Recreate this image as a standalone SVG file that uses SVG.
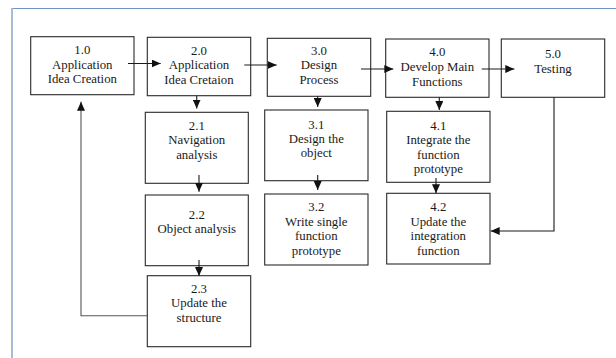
<svg xmlns="http://www.w3.org/2000/svg" width="616" height="358" viewBox="0 0 616 358">
  <style>
    .box { fill: #ffffff; stroke: #2a2a2a; stroke-width: 1.1; }
    .lbl { font-family: "Liberation Serif", "Times New Roman", serif; font-size: 12.8px; fill: #1a1a1a; text-anchor: middle; }
    .wire { fill: none; stroke: #1a1a1a; stroke-width: 1.1; }
    .wire.back { stroke: #555555; }
  </style>
  <defs>
    <marker id="head" markerUnits="userSpaceOnUse" markerWidth="10" markerHeight="8" viewBox="0 0 10 8" refX="9" refY="4" orient="auto">
      <path d="M0,0 L9,4 L0,8 Z" fill="#111111"/>
    </marker>
  </defs>

  <rect width="616" height="358" fill="#ffffff"/>

  <!-- page frame -->
  <g id="frame">
    <line x1="12" y1="8.5" x2="616" y2="8.5" stroke="#7191c0" stroke-width="1"/>
    <line x1="12" y1="8" x2="12" y2="358" stroke="#a9bcd6" stroke-width="2"/>
  </g>

  <!-- process steps -->
  <g id="n1_0">
    <rect class="box" x="30.7" y="36.7" width="103.3" height="58"/>
    <text class="lbl" x="82.3" y="54">1.0</text>
    <text class="lbl" x="82.3" y="68.5">Application</text>
    <text class="lbl" x="82.3" y="83">Idea Creation</text>
  </g>
  <g id="n2_0">
    <rect class="box" x="147.3" y="37.3" width="103.4" height="58.4"/>
    <text class="lbl" x="199" y="54.5">2.0</text>
    <text class="lbl" x="199" y="69">Application</text>
    <text class="lbl" x="199" y="83.5">Idea Cretaion</text>
  </g>
  <g id="n3_0">
    <rect class="box" x="267.3" y="38.3" width="103.4" height="58"/>
    <text class="lbl" x="319" y="54.5">3.0</text>
    <text class="lbl" x="319" y="69">Design</text>
    <text class="lbl" x="319" y="83.5">Process</text>
  </g>
  <g id="n4_0">
    <rect class="box" x="385.7" y="39" width="103.3" height="58.3"/>
    <text class="lbl" x="437.3" y="56">4.0</text>
    <text class="lbl" x="437.3" y="71">Develop Main</text>
    <text class="lbl" x="437.3" y="85.5">Functions</text>
  </g>
  <g id="n5_0">
    <rect class="box" x="501.3" y="39" width="103.4" height="58.3"/>
    <text class="lbl" x="553" y="57.5">5.0</text>
    <text class="lbl" x="553" y="72.5">Testing</text>
  </g>
  <g id="n2_1">
    <rect class="box" x="145.3" y="112.3" width="103" height="71"/>
    <text class="lbl" x="196.8" y="129.5">2.1</text>
    <text class="lbl" x="196.8" y="144">Navigation</text>
    <text class="lbl" x="196.8" y="158.5">analysis</text>
  </g>
  <g id="n3_1">
    <rect class="box" x="264.7" y="110" width="103.3" height="70.7"/>
    <text class="lbl" x="316.3" y="128.5">3.1</text>
    <text class="lbl" x="316.3" y="142.5">Design the</text>
    <text class="lbl" x="316.3" y="156.5">object</text>
  </g>
  <g id="n4_1">
    <rect class="box" x="386.7" y="111.3" width="103.3" height="71"/>
    <text class="lbl" x="438.3" y="129.5">4.1</text>
    <text class="lbl" x="438.3" y="144">Integrate the</text>
    <text class="lbl" x="438.3" y="158.5">function</text>
    <text class="lbl" x="438.3" y="173">prototype</text>
  </g>
  <g id="n2_2">
    <rect class="box" x="145.3" y="195" width="103" height="70.7"/>
    <text class="lbl" x="196.8" y="218.5">2.2</text>
    <text class="lbl" x="196.8" y="233">Object analysis</text>
  </g>
  <g id="n3_2">
    <rect class="box" x="264.7" y="194" width="103.3" height="71"/>
    <text class="lbl" x="316.3" y="211">3.2</text>
    <text class="lbl" x="316.3" y="225.5">Write single</text>
    <text class="lbl" x="316.3" y="240">function</text>
    <text class="lbl" x="316.3" y="254.5">prototype</text>
  </g>
  <g id="n4_2">
    <rect class="box" x="386.7" y="193.3" width="103.3" height="70.7"/>
    <text class="lbl" x="438.3" y="211">4.2</text>
    <text class="lbl" x="438.3" y="225.5">Update the</text>
    <text class="lbl" x="438.3" y="240">integration</text>
    <text class="lbl" x="438.3" y="254.5">function</text>
  </g>
  <g id="n2_3">
    <rect class="box" x="147.3" y="275.7" width="103.4" height="71"/>
    <text class="lbl" x="199" y="292.5">2.3</text>
    <text class="lbl" x="199" y="307">Update the</text>
    <text class="lbl" x="199" y="321.5">structure</text>
  </g>

  <!-- connectors -->
  <g id="connectors">
    <path class="wire" d="M128 63.5 H160.7" marker-end="url(#head)"/>
    <path class="wire" d="M244.3 65 H276.7" marker-end="url(#head)"/>
    <path class="wire" d="M361 69 H393.3" marker-end="url(#head)"/>
    <path class="wire" d="M481.7 69 H514.3" marker-end="url(#head)"/>
    <path class="wire" d="M196.7 95.7 V108.5" marker-end="url(#head)"/>
    <path class="wire" d="M199 175 V191.7" marker-end="url(#head)"/>
    <path class="wire" d="M199 260 V276" marker-end="url(#head)"/>
    <path class="wire back" d="M147.3 315.7 H81 V101.7" marker-end="url(#head)"/>
    <path class="wire" d="M317.7 96.3 V107" marker-end="url(#head)"/>
    <path class="wire" d="M317.7 175 V190" marker-end="url(#head)"/>
    <path class="wire" d="M439.3 97.3 V110" marker-end="url(#head)"/>
    <path class="wire" d="M436 178 V193.3" marker-end="url(#head)"/>
    <path class="wire" d="M554 97.3 V231 H490.7" marker-end="url(#head)"/>
  </g>
</svg>
